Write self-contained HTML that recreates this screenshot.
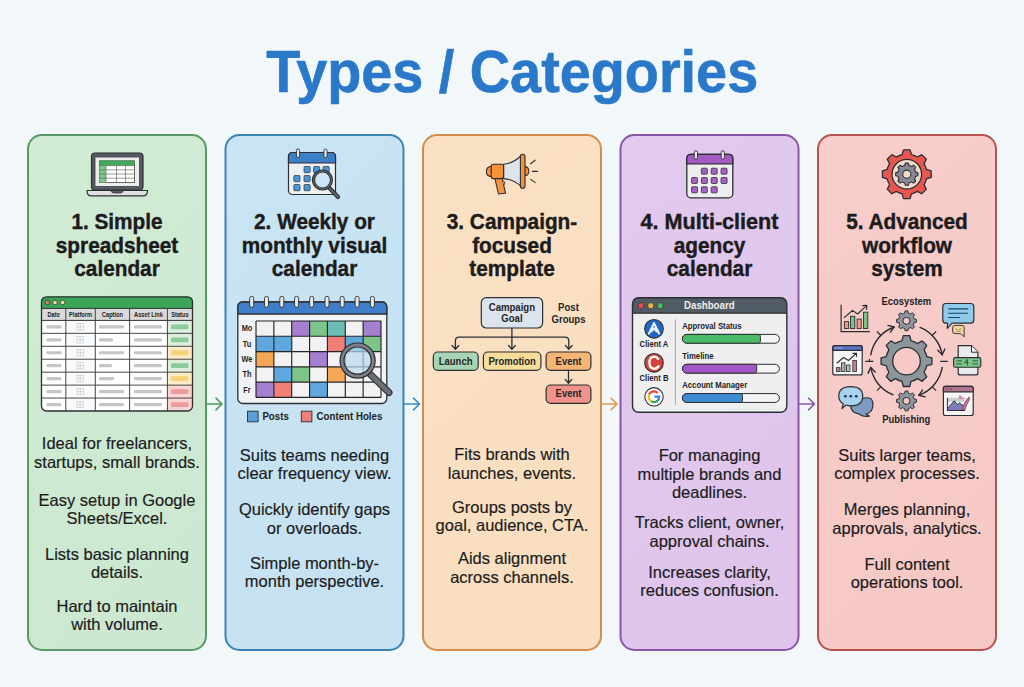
<!DOCTYPE html>
<html><head><meta charset="utf-8"><title>Types / Categories</title>
<style>html,body{margin:0;padding:0;background:#f2f8fa;width:1024px;height:687px;overflow:hidden}svg{display:block}</style>
</head><body>
<svg width="1024" height="687" viewBox="0 0 1024 687" font-family='"Liberation Sans", sans-serif'><defs><linearGradient id="g0" x1="0" y1="0" x2="0.3" y2="1"><stop offset="0" stop-color="#d1ebd5"/><stop offset="1" stop-color="#cde8d1"/></linearGradient><linearGradient id="g1" x1="0" y1="0" x2="0.3" y2="1"><stop offset="0" stop-color="#c9e4f3"/><stop offset="1" stop-color="#c6e2f2"/></linearGradient><linearGradient id="g2" x1="0" y1="0" x2="0.3" y2="1"><stop offset="0" stop-color="#fbe1c4"/><stop offset="1" stop-color="#f9dec0"/></linearGradient><linearGradient id="g3" x1="0" y1="0" x2="0.3" y2="1"><stop offset="0" stop-color="#e2c9ee"/><stop offset="1" stop-color="#dfc5eb"/></linearGradient><linearGradient id="g4" x1="0" y1="0" x2="0.3" y2="1"><stop offset="0" stop-color="#f8cdca"/><stop offset="1" stop-color="#f6c9c5"/></linearGradient></defs>
<rect x="28" y="135" width="178" height="515" rx="14" fill="url(#g0)" stroke="#579a65" stroke-width="2"/>
<rect x="225.5" y="135" width="178" height="515" rx="14" fill="url(#g1)" stroke="#3b83b2" stroke-width="2"/>
<rect x="423" y="135" width="178" height="515" rx="14" fill="url(#g2)" stroke="#d68d48" stroke-width="2"/>
<rect x="620.5" y="135" width="178" height="515" rx="14" fill="url(#g3)" stroke="#8756a6" stroke-width="2"/>
<rect x="818" y="135" width="178" height="515" rx="14" fill="url(#g4)" stroke="#b5544f" stroke-width="2"/>
<path d="M207 404 H222.0 M216.0 398.2 L222.0 404 L216.0 409.8" fill="none" stroke="#4d9a5e" stroke-width="1.6" stroke-linecap="round" stroke-linejoin="round"/>
<path d="M404.5 404 H419.5 M413.5 398.2 L419.5 404 L413.5 409.8" fill="none" stroke="#3f8bbf" stroke-width="1.6" stroke-linecap="round" stroke-linejoin="round"/>
<path d="M602 404 H617.0 M611.0 398.2 L617.0 404 L611.0 409.8" fill="none" stroke="#e39b4c" stroke-width="1.6" stroke-linecap="round" stroke-linejoin="round"/>
<path d="M799.5 404 H814.5 M808.5 398.2 L814.5 404 L808.5 409.8" fill="none" stroke="#8e56ac" stroke-width="1.6" stroke-linecap="round" stroke-linejoin="round"/>
<text transform="translate(512.2 91.7) scale(1 1.075)" font-size="55.8" font-weight="bold" fill="#2a78ca" text-anchor="middle" stroke="#2a78ca" stroke-width="0.6">Types / Categories</text>
<text transform="translate(117.0 228.8) scale(1 1.08)" font-size="20.8" font-weight="bold" fill="#1c1c1c" text-anchor="middle" stroke="#1c1c1c" stroke-width="0.4">1. Simple</text>
<text transform="translate(117.0 252.6) scale(1 1.08)" font-size="20.8" font-weight="bold" fill="#1c1c1c" text-anchor="middle" stroke="#1c1c1c" stroke-width="0.4">spreadsheet</text>
<text transform="translate(117.0 276.0) scale(1 1.08)" font-size="20.8" font-weight="bold" fill="#1c1c1c" text-anchor="middle" stroke="#1c1c1c" stroke-width="0.4">calendar</text>
<text transform="translate(314.5 228.8) scale(1 1.08)" font-size="20.8" font-weight="bold" fill="#1c1c1c" text-anchor="middle" stroke="#1c1c1c" stroke-width="0.4">2. Weekly or</text>
<text transform="translate(314.5 252.6) scale(1 1.08)" font-size="20.8" font-weight="bold" fill="#1c1c1c" text-anchor="middle" stroke="#1c1c1c" stroke-width="0.4">monthly visual</text>
<text transform="translate(314.5 276.0) scale(1 1.08)" font-size="20.8" font-weight="bold" fill="#1c1c1c" text-anchor="middle" stroke="#1c1c1c" stroke-width="0.4">calendar</text>
<text transform="translate(512.0 228.8) scale(1 1.08)" font-size="20.8" font-weight="bold" fill="#1c1c1c" text-anchor="middle" stroke="#1c1c1c" stroke-width="0.4">3. Campaign-</text>
<text transform="translate(512.0 252.6) scale(1 1.08)" font-size="20.8" font-weight="bold" fill="#1c1c1c" text-anchor="middle" stroke="#1c1c1c" stroke-width="0.4">focused</text>
<text transform="translate(512.0 276.0) scale(1 1.08)" font-size="20.8" font-weight="bold" fill="#1c1c1c" text-anchor="middle" stroke="#1c1c1c" stroke-width="0.4">template</text>
<text transform="translate(709.5 228.8) scale(1 1.08)" font-size="20.8" font-weight="bold" fill="#1c1c1c" text-anchor="middle" stroke="#1c1c1c" stroke-width="0.4" textLength="138" lengthAdjust="spacingAndGlyphs">4. Multi-client</text>
<text transform="translate(709.5 252.6) scale(1 1.08)" font-size="20.8" font-weight="bold" fill="#1c1c1c" text-anchor="middle" stroke="#1c1c1c" stroke-width="0.4">agency</text>
<text transform="translate(709.5 276.0) scale(1 1.08)" font-size="20.8" font-weight="bold" fill="#1c1c1c" text-anchor="middle" stroke="#1c1c1c" stroke-width="0.4">calendar</text>
<text transform="translate(907.0 228.8) scale(1 1.08)" font-size="20.8" font-weight="bold" fill="#1c1c1c" text-anchor="middle" stroke="#1c1c1c" stroke-width="0.4">5. Advanced</text>
<text transform="translate(907.0 252.6) scale(1 1.08)" font-size="20.8" font-weight="bold" fill="#1c1c1c" text-anchor="middle" stroke="#1c1c1c" stroke-width="0.4">workflow</text>
<text transform="translate(907.0 276.0) scale(1 1.08)" font-size="20.8" font-weight="bold" fill="#1c1c1c" text-anchor="middle" stroke="#1c1c1c" stroke-width="0.4">system</text>
<text transform="translate(117.0 449.1) scale(1 1.05)" font-size="16.5" font-weight="normal" fill="#1c1c1c" text-anchor="middle" stroke="#1c1c1c" stroke-width="0.18">Ideal for freelancers,</text>
<text transform="translate(117.0 467.8) scale(1 1.05)" font-size="16.5" font-weight="normal" fill="#1c1c1c" text-anchor="middle" stroke="#1c1c1c" stroke-width="0.18">startups, small brands.</text>
<text transform="translate(117.0 505.5) scale(1 1.05)" font-size="16.5" font-weight="normal" fill="#1c1c1c" text-anchor="middle" stroke="#1c1c1c" stroke-width="0.18">Easy setup in Google</text>
<text transform="translate(117.0 523.8) scale(1 1.05)" font-size="16.5" font-weight="normal" fill="#1c1c1c" text-anchor="middle" stroke="#1c1c1c" stroke-width="0.18">Sheets/Excel.</text>
<text transform="translate(117.0 559.8) scale(1 1.05)" font-size="16.5" font-weight="normal" fill="#1c1c1c" text-anchor="middle" stroke="#1c1c1c" stroke-width="0.18">Lists basic planning</text>
<text transform="translate(117.0 577.9) scale(1 1.05)" font-size="16.5" font-weight="normal" fill="#1c1c1c" text-anchor="middle" stroke="#1c1c1c" stroke-width="0.18">details.</text>
<text transform="translate(117.0 611.5) scale(1 1.05)" font-size="16.5" font-weight="normal" fill="#1c1c1c" text-anchor="middle" stroke="#1c1c1c" stroke-width="0.18">Hard to maintain</text>
<text transform="translate(117.0 629.6) scale(1 1.05)" font-size="16.5" font-weight="normal" fill="#1c1c1c" text-anchor="middle" stroke="#1c1c1c" stroke-width="0.18">with volume.</text>
<text transform="translate(314.5 461.2) scale(1 1.05)" font-size="16.5" font-weight="normal" fill="#1c1c1c" text-anchor="middle" stroke="#1c1c1c" stroke-width="0.18">Suits teams needing</text>
<text transform="translate(314.5 479.4) scale(1 1.05)" font-size="16.5" font-weight="normal" fill="#1c1c1c" text-anchor="middle" stroke="#1c1c1c" stroke-width="0.18">clear frequency view.</text>
<text transform="translate(314.5 515) scale(1 1.05)" font-size="16.5" font-weight="normal" fill="#1c1c1c" text-anchor="middle" stroke="#1c1c1c" stroke-width="0.18">Quickly identify gaps</text>
<text transform="translate(314.5 533.6) scale(1 1.05)" font-size="16.5" font-weight="normal" fill="#1c1c1c" text-anchor="middle" stroke="#1c1c1c" stroke-width="0.18">or overloads.</text>
<text transform="translate(314.5 568.5) scale(1 1.05)" font-size="16.5" font-weight="normal" fill="#1c1c1c" text-anchor="middle" stroke="#1c1c1c" stroke-width="0.18">Simple month-by-</text>
<text transform="translate(314.5 587) scale(1 1.05)" font-size="16.5" font-weight="normal" fill="#1c1c1c" text-anchor="middle" stroke="#1c1c1c" stroke-width="0.18">month perspective.</text>
<text transform="translate(512.0 460.2) scale(1 1.05)" font-size="16.5" font-weight="normal" fill="#1c1c1c" text-anchor="middle" stroke="#1c1c1c" stroke-width="0.18">Fits brands with</text>
<text transform="translate(512.0 478.7) scale(1 1.05)" font-size="16.5" font-weight="normal" fill="#1c1c1c" text-anchor="middle" stroke="#1c1c1c" stroke-width="0.18">launches, events.</text>
<text transform="translate(512.0 512.6) scale(1 1.05)" font-size="16.5" font-weight="normal" fill="#1c1c1c" text-anchor="middle" stroke="#1c1c1c" stroke-width="0.18">Groups posts by</text>
<text transform="translate(512.0 531) scale(1 1.05)" font-size="16.5" font-weight="normal" fill="#1c1c1c" text-anchor="middle" stroke="#1c1c1c" stroke-width="0.18">goal, audience, CTA.</text>
<text transform="translate(512.0 564.3) scale(1 1.05)" font-size="16.5" font-weight="normal" fill="#1c1c1c" text-anchor="middle" stroke="#1c1c1c" stroke-width="0.18">Aids alignment</text>
<text transform="translate(512.0 582.8) scale(1 1.05)" font-size="16.5" font-weight="normal" fill="#1c1c1c" text-anchor="middle" stroke="#1c1c1c" stroke-width="0.18">across channels.</text>
<text transform="translate(709.5 461.2) scale(1 1.05)" font-size="16.5" font-weight="normal" fill="#1c1c1c" text-anchor="middle" stroke="#1c1c1c" stroke-width="0.18">For managing</text>
<text transform="translate(709.5 480) scale(1 1.05)" font-size="16.5" font-weight="normal" fill="#1c1c1c" text-anchor="middle" stroke="#1c1c1c" stroke-width="0.18">multiple brands and</text>
<text transform="translate(709.5 497.6) scale(1 1.05)" font-size="16.5" font-weight="normal" fill="#1c1c1c" text-anchor="middle" stroke="#1c1c1c" stroke-width="0.18">deadlines.</text>
<text transform="translate(709.5 528.3) scale(1 1.05)" font-size="16.5" font-weight="normal" fill="#1c1c1c" text-anchor="middle" stroke="#1c1c1c" stroke-width="0.18">Tracks client, owner,</text>
<text transform="translate(709.5 546.5) scale(1 1.05)" font-size="16.5" font-weight="normal" fill="#1c1c1c" text-anchor="middle" stroke="#1c1c1c" stroke-width="0.18">approval chains.</text>
<text transform="translate(709.5 578) scale(1 1.05)" font-size="16.5" font-weight="normal" fill="#1c1c1c" text-anchor="middle" stroke="#1c1c1c" stroke-width="0.18">Increases clarity,</text>
<text transform="translate(709.5 595.8) scale(1 1.05)" font-size="16.5" font-weight="normal" fill="#1c1c1c" text-anchor="middle" stroke="#1c1c1c" stroke-width="0.18">reduces confusion.</text>
<text transform="translate(907.0 460.8) scale(1 1.05)" font-size="16.5" font-weight="normal" fill="#1c1c1c" text-anchor="middle" stroke="#1c1c1c" stroke-width="0.18">Suits larger teams,</text>
<text transform="translate(907.0 479.1) scale(1 1.05)" font-size="16.5" font-weight="normal" fill="#1c1c1c" text-anchor="middle" stroke="#1c1c1c" stroke-width="0.18">complex processes.</text>
<text transform="translate(907.0 515.3) scale(1 1.05)" font-size="16.5" font-weight="normal" fill="#1c1c1c" text-anchor="middle" stroke="#1c1c1c" stroke-width="0.18">Merges planning,</text>
<text transform="translate(907.0 534) scale(1 1.05)" font-size="16.5" font-weight="normal" fill="#1c1c1c" text-anchor="middle" stroke="#1c1c1c" stroke-width="0.18">approvals, analytics.</text>
<text transform="translate(907.0 569.7) scale(1 1.05)" font-size="16.5" font-weight="normal" fill="#1c1c1c" text-anchor="middle" stroke="#1c1c1c" stroke-width="0.18">Full content</text>
<text transform="translate(907.0 588) scale(1 1.05)" font-size="16.5" font-weight="normal" fill="#1c1c1c" text-anchor="middle" stroke="#1c1c1c" stroke-width="0.18">operations tool.</text>
<rect x="91.5" y="153" width="51.5" height="37" rx="3.5" fill="#565c64" stroke="#2b2f33" stroke-width="1.2"/>
<rect x="95" y="157" width="44.5" height="29.5" fill="#eceeee" stroke="#3a3f44" stroke-width="0.8"/>
<rect x="99.5" y="160.8" width="35" height="21.8" fill="#ffffff" stroke="#444" stroke-width="0.8"/>
<rect x="99.5" y="160.8" width="35" height="4.8" fill="#3fa95a"/>
<rect x="99.5" y="165.6" width="6.5" height="17" fill="#7cc98a"/>
<line x1="99.5" y1="165.6" x2="134.5" y2="165.6" stroke="#555" stroke-width="0.6"/>
<line x1="99.5" y1="169.8" x2="134.5" y2="169.8" stroke="#555" stroke-width="0.6"/>
<line x1="99.5" y1="174" x2="134.5" y2="174" stroke="#555" stroke-width="0.6"/>
<line x1="99.5" y1="178.2" x2="134.5" y2="178.2" stroke="#555" stroke-width="0.6"/>
<line x1="106" y1="165.6" x2="106" y2="182.6" stroke="#555" stroke-width="0.6"/>
<line x1="116.5" y1="165.6" x2="116.5" y2="182.6" stroke="#555" stroke-width="0.6"/>
<line x1="125.5" y1="165.6" x2="125.5" y2="182.6" stroke="#555" stroke-width="0.6"/>
<path d="M87 190.5 H147.5 Q147.5 195.5 143.5 195.8 H90.5 Q87 195.5 87 190.5 Z" fill="#dfe1e3" stroke="#2b2f33" stroke-width="1.2" stroke-linejoin="round"/>
<path d="M110.5 190.3 Q111.5 193 114 193 H120.5 Q123 193 123.5 190.3 Z" fill="#555b62" stroke="#2b2f33" stroke-width="0.8"/>
<rect x="41.5" y="296.8" width="151.0" height="114.19999999999999" rx="5" fill="#ffffff"/>
<path d="M41.5 308.8 V301.8 Q41.5 296.8 46.5 296.8 H187.5 Q192.5 296.8 192.5 301.8 V308.8 Z" fill="#3aa556"/>
<circle cx="47.4" cy="302.5" r="2.3" fill="#d9806f" stroke="#2b2f33" stroke-width="0.7"/>
<circle cx="55.0" cy="302.5" r="2.3" fill="#e8dc9e" stroke="#2b2f33" stroke-width="0.7"/>
<circle cx="62.6" cy="302.5" r="2.3" fill="#ece2a4" stroke="#2b2f33" stroke-width="0.7"/>
<rect x="41.5" y="308.4" width="151.0" height="12.0" fill="#d9d9d9"/>
<text transform="translate(53.65 317) scale(1 1.12)" font-size="5.7" font-weight="bold" fill="#1e1e1e" text-anchor="middle" >Date</text>
<text transform="translate(80.55 317) scale(1 1.12)" font-size="5.7" font-weight="bold" fill="#1e1e1e" text-anchor="middle" >Platform</text>
<text transform="translate(112.44999999999999 317) scale(1 1.12)" font-size="5.7" font-weight="bold" fill="#1e1e1e" text-anchor="middle" >Caption</text>
<text transform="translate(148.5 317) scale(1 1.12)" font-size="5.7" font-weight="bold" fill="#1e1e1e" text-anchor="middle" >Asset Link</text>
<text transform="translate(179.95 317) scale(1 1.12)" font-size="5.7" font-weight="bold" fill="#1e1e1e" text-anchor="middle" >Status</text>
<rect x="167.4" y="320.4" width="25.099999999999994" height="12.942857142857147" fill="#dcefdf"/>
<rect x="65.8" y="320.4" width="29.5" height="12.942857142857147" fill="#f8fafc"/>
<rect x="46.5" y="325.27142857142854" width="15" height="3.2" rx="1.2" fill="#c4c6c8"/>
<rect x="99" y="325.27142857142854" width="25" height="3.2" rx="1.2" fill="#c4c6c8"/>
<rect x="134" y="325.27142857142854" width="28" height="3.2" rx="1.2" fill="#c4c6c8"/>
<rect x="171" y="324.4714285714286" width="17.5" height="4.8" rx="1.2" fill="#8ccc98"/>
<g fill="none" stroke="#c0c4c8" stroke-width="0.6"><rect x="77" y="323.6714285714286" width="6.4" height="6.4"/><line x1="80.2" y1="323.6714285714286" x2="80.2" y2="330.07142857142856"/><line x1="77" y1="326.87142857142857" x2="83.4" y2="326.87142857142857"/></g>
<rect x="167.4" y="333.3428571428571" width="25.099999999999994" height="12.942857142857147" fill="#dcefdf"/>
<rect x="65.8" y="333.3428571428571" width="29.5" height="12.942857142857147" fill="#f8fafc"/>
<rect x="46.5" y="338.21428571428567" width="15" height="3.2" rx="1.2" fill="#c4c6c8"/>
<rect x="99" y="338.21428571428567" width="14" height="3.2" rx="1.2" fill="#c4c6c8"/>
<rect x="134" y="338.21428571428567" width="28" height="3.2" rx="1.2" fill="#c4c6c8"/>
<rect x="171" y="337.4142857142857" width="17.5" height="4.8" rx="1.2" fill="#8ccc98"/>
<g fill="none" stroke="#c0c4c8" stroke-width="0.6"><rect x="77" y="336.6142857142857" width="6.4" height="6.4"/><line x1="80.2" y1="336.6142857142857" x2="80.2" y2="343.0142857142857"/><line x1="77" y1="339.8142857142857" x2="83.4" y2="339.8142857142857"/></g>
<rect x="167.4" y="346.2857142857143" width="25.099999999999994" height="12.942857142857147" fill="#fcebc6"/>
<rect x="65.8" y="346.2857142857143" width="29.5" height="12.942857142857147" fill="#f8fafc"/>
<rect x="46.5" y="351.15714285714284" width="15" height="3.2" rx="1.2" fill="#c4c6c8"/>
<rect x="99" y="351.15714285714284" width="25" height="3.2" rx="1.2" fill="#c4c6c8"/>
<rect x="134" y="351.15714285714284" width="28" height="3.2" rx="1.2" fill="#c4c6c8"/>
<rect x="171" y="350.3571428571429" width="17.5" height="4.8" rx="1.2" fill="#f6d27a"/>
<g fill="none" stroke="#c0c4c8" stroke-width="0.6"><rect x="77" y="349.5571428571429" width="6.4" height="6.4"/><line x1="80.2" y1="349.5571428571429" x2="80.2" y2="355.95714285714286"/><line x1="77" y1="352.75714285714287" x2="83.4" y2="352.75714285714287"/></g>
<rect x="167.4" y="359.2285714285714" width="25.099999999999994" height="12.942857142857147" fill="#dcefdf"/>
<rect x="65.8" y="359.2285714285714" width="29.5" height="12.942857142857147" fill="#f8fafc"/>
<rect x="46.5" y="364.09999999999997" width="15" height="3.2" rx="1.2" fill="#c4c6c8"/>
<rect x="99" y="364.09999999999997" width="13" height="3.2" rx="1.2" fill="#c4c6c8"/>
<rect x="134" y="364.09999999999997" width="28" height="3.2" rx="1.2" fill="#c4c6c8"/>
<rect x="171" y="363.3" width="17.5" height="4.8" rx="1.2" fill="#8ccc98"/>
<g fill="none" stroke="#c0c4c8" stroke-width="0.6"><rect x="77" y="362.5" width="6.4" height="6.4"/><line x1="80.2" y1="362.5" x2="80.2" y2="368.9"/><line x1="77" y1="365.7" x2="83.4" y2="365.7"/></g>
<rect x="167.4" y="372.1714285714286" width="25.099999999999994" height="12.942857142857147" fill="#fcebc6"/>
<rect x="65.8" y="372.1714285714286" width="29.5" height="12.942857142857147" fill="#f8fafc"/>
<rect x="46.5" y="377.04285714285714" width="15" height="3.2" rx="1.2" fill="#c4c6c8"/>
<rect x="99" y="377.04285714285714" width="15" height="3.2" rx="1.2" fill="#c4c6c8"/>
<rect x="134" y="377.04285714285714" width="28" height="3.2" rx="1.2" fill="#c4c6c8"/>
<rect x="171" y="376.2428571428572" width="17.5" height="4.8" rx="1.2" fill="#f6d27a"/>
<g fill="none" stroke="#c0c4c8" stroke-width="0.6"><rect x="77" y="375.4428571428572" width="6.4" height="6.4"/><line x1="80.2" y1="375.4428571428572" x2="80.2" y2="381.84285714285716"/><line x1="77" y1="378.64285714285717" x2="83.4" y2="378.64285714285717"/></g>
<rect x="167.4" y="385.1142857142857" width="25.099999999999994" height="12.942857142857147" fill="#f9d4d4"/>
<rect x="65.8" y="385.1142857142857" width="29.5" height="12.942857142857147" fill="#f8fafc"/>
<rect x="46.5" y="389.98571428571427" width="15" height="3.2" rx="1.2" fill="#c4c6c8"/>
<rect x="99" y="389.98571428571427" width="25" height="3.2" rx="1.2" fill="#c4c6c8"/>
<rect x="134" y="389.98571428571427" width="28" height="3.2" rx="1.2" fill="#c4c6c8"/>
<rect x="171" y="389.1857142857143" width="17.5" height="4.8" rx="1.2" fill="#ef9a9a"/>
<g fill="none" stroke="#c0c4c8" stroke-width="0.6"><rect x="77" y="388.3857142857143" width="6.4" height="6.4"/><line x1="80.2" y1="388.3857142857143" x2="80.2" y2="394.7857142857143"/><line x1="77" y1="391.5857142857143" x2="83.4" y2="391.5857142857143"/></g>
<rect x="167.4" y="398.0571428571428" width="25.099999999999994" height="12.942857142857147" fill="#f9d4d4"/>
<rect x="65.8" y="398.0571428571428" width="29.5" height="12.942857142857147" fill="#f8fafc"/>
<rect x="46.5" y="402.9285714285714" width="15" height="3.2" rx="1.2" fill="#c4c6c8"/>
<rect x="99" y="402.9285714285714" width="25" height="3.2" rx="1.2" fill="#c4c6c8"/>
<rect x="134" y="402.9285714285714" width="28" height="3.2" rx="1.2" fill="#c4c6c8"/>
<rect x="171" y="402.12857142857143" width="17.5" height="4.8" rx="1.2" fill="#ef9a9a"/>
<g fill="none" stroke="#c0c4c8" stroke-width="0.6"><rect x="77" y="401.3285714285714" width="6.4" height="6.4"/><line x1="80.2" y1="401.3285714285714" x2="80.2" y2="407.7285714285714"/><line x1="77" y1="404.5285714285714" x2="83.4" y2="404.5285714285714"/></g>
<line x1="41.5" y1="333.3428571428571" x2="192.5" y2="333.3428571428571" stroke="#333" stroke-width="0.9"/>
<line x1="41.5" y1="346.2857142857143" x2="192.5" y2="346.2857142857143" stroke="#333" stroke-width="0.9"/>
<line x1="41.5" y1="359.2285714285714" x2="192.5" y2="359.2285714285714" stroke="#333" stroke-width="0.9"/>
<line x1="41.5" y1="372.1714285714286" x2="192.5" y2="372.1714285714286" stroke="#333" stroke-width="0.9"/>
<line x1="41.5" y1="385.1142857142857" x2="192.5" y2="385.1142857142857" stroke="#333" stroke-width="0.9"/>
<line x1="41.5" y1="398.0571428571428" x2="192.5" y2="398.0571428571428" stroke="#333" stroke-width="0.9"/>
<line x1="41.5" y1="308.4" x2="192.5" y2="308.4" stroke="#333" stroke-width="1"/>
<line x1="41.5" y1="320.4" x2="192.5" y2="320.4" stroke="#333" stroke-width="1"/>
<line x1="65.8" y1="308.4" x2="65.8" y2="411" stroke="#333" stroke-width="0.9"/>
<line x1="95.3" y1="308.4" x2="95.3" y2="411" stroke="#333" stroke-width="0.9"/>
<line x1="129.6" y1="308.4" x2="129.6" y2="411" stroke="#333" stroke-width="0.9"/>
<line x1="167.4" y1="308.4" x2="167.4" y2="411" stroke="#333" stroke-width="0.9"/>
<rect x="41.5" y="296.8" width="151.0" height="114.19999999999999" rx="5" fill="none" stroke="#2b2f33" stroke-width="1.3"/>
<rect x="288.5" y="152.5" width="47" height="42" rx="4" fill="#eef0f2" stroke="#2b2f33" stroke-width="1.2"/>
<path d="M288.5 163 V156.5 Q288.5 152.5 292.5 152.5 H331.5 Q335.5 152.5 335.5 156.5 V163 Z" fill="#3d7fc8" stroke="#2b2f33" stroke-width="1.2"/>
<rect x="296.4" y="149" width="3.2" height="8.5" rx="1.6" fill="#e8eaec" stroke="#2b2f33" stroke-width="0.9"/>
<rect x="323.9" y="149" width="3.2" height="8.5" rx="1.6" fill="#e8eaec" stroke="#2b2f33" stroke-width="0.9"/>
<rect x="304" y="166.5" width="6.2" height="6.2" rx="1" fill="#4a94d8" stroke="#2b2f33" stroke-width="0.7"/>
<rect x="313.5" y="166.5" width="6.2" height="6.2" rx="1" fill="#4a94d8" stroke="#2b2f33" stroke-width="0.7"/>
<rect x="323" y="166.5" width="6.2" height="6.2" rx="1" fill="#4a94d8" stroke="#2b2f33" stroke-width="0.7"/>
<rect x="293.8" y="175.5" width="6.2" height="6.2" rx="1" fill="#4a94d8" stroke="#2b2f33" stroke-width="0.7"/>
<rect x="304" y="175.5" width="6.2" height="6.2" rx="1" fill="#4a94d8" stroke="#2b2f33" stroke-width="0.7"/>
<rect x="293.8" y="184.5" width="6.2" height="6.2" rx="1" fill="#4a94d8" stroke="#2b2f33" stroke-width="0.7"/>
<rect x="304" y="184.5" width="6.2" height="6.2" rx="1" fill="#4a94d8" stroke="#2b2f33" stroke-width="0.7"/>
<line x1="328.5" y1="187" x2="338" y2="197" stroke="#2b2f33" stroke-width="4.2" stroke-linecap="round"/>
<line x1="328.5" y1="187" x2="338" y2="197" stroke="#5a6068" stroke-width="2.4" stroke-linecap="round"/>
<circle cx="322.5" cy="180" r="9" fill="#cfe6f6" stroke="#2b2f33" stroke-width="3.2"/>
<circle cx="322.5" cy="180" r="9" fill="none" stroke="#5a6068" stroke-width="1.4"/>
<rect x="237.8" y="302" width="149.0" height="101.5" rx="5" fill="#f1f2f3" stroke="#2b2f33" stroke-width="1.3"/>
<path d="M237.8 314 V307 Q237.8 302 242.8 302 H381.8 Q386.8 302 386.8 307 V314 Z" fill="#3f7fc9" stroke="#2b2f33" stroke-width="1.3"/>
<rect x="249.7" y="296.3" width="4" height="11" rx="2" fill="#e6e8ea" stroke="#2b2f33" stroke-width="0.9"/>
<rect x="264.5" y="296.3" width="4" height="11" rx="2" fill="#e6e8ea" stroke="#2b2f33" stroke-width="0.9"/>
<rect x="279.8" y="296.3" width="4" height="11" rx="2" fill="#e6e8ea" stroke="#2b2f33" stroke-width="0.9"/>
<rect x="294.6" y="296.3" width="4" height="11" rx="2" fill="#e6e8ea" stroke="#2b2f33" stroke-width="0.9"/>
<rect x="309.7" y="296.3" width="4" height="11" rx="2" fill="#e6e8ea" stroke="#2b2f33" stroke-width="0.9"/>
<rect x="325" y="296.3" width="4" height="11" rx="2" fill="#e6e8ea" stroke="#2b2f33" stroke-width="0.9"/>
<rect x="340.2" y="296.3" width="4" height="11" rx="2" fill="#e6e8ea" stroke="#2b2f33" stroke-width="0.9"/>
<rect x="355.1" y="296.3" width="4" height="11" rx="2" fill="#e6e8ea" stroke="#2b2f33" stroke-width="0.9"/>
<rect x="370.4" y="296.3" width="4" height="11" rx="2" fill="#e6e8ea" stroke="#2b2f33" stroke-width="0.9"/>
<rect x="256.0" y="321.0" width="17.857142857142858" height="15.279999999999996" fill="#f2f2f2"/>
<rect x="273.85714285714283" y="321.0" width="17.857142857142858" height="15.279999999999996" fill="#f2f2f2"/>
<rect x="291.7142857142857" y="321.0" width="17.857142857142858" height="15.279999999999996" fill="#a57fd0"/>
<rect x="309.57142857142856" y="321.0" width="17.857142857142858" height="15.279999999999996" fill="#7cc487"/>
<rect x="327.42857142857144" y="321.0" width="17.857142857142858" height="15.279999999999996" fill="#6cbcb6"/>
<rect x="345.2857142857143" y="321.0" width="17.857142857142858" height="15.279999999999996" fill="#f2f2f2"/>
<rect x="363.1428571428571" y="321.0" width="17.857142857142858" height="15.279999999999996" fill="#a57fd0"/>
<rect x="256.0" y="336.28" width="17.857142857142858" height="15.279999999999996" fill="#5ea8de"/>
<rect x="273.85714285714283" y="336.28" width="17.857142857142858" height="15.279999999999996" fill="#5ea8de"/>
<rect x="291.7142857142857" y="336.28" width="17.857142857142858" height="15.279999999999996" fill="#f2f2f2"/>
<rect x="309.57142857142856" y="336.28" width="17.857142857142858" height="15.279999999999996" fill="#f2f2f2"/>
<rect x="327.42857142857144" y="336.28" width="17.857142857142858" height="15.279999999999996" fill="#ef7f77"/>
<rect x="345.2857142857143" y="336.28" width="17.857142857142858" height="15.279999999999996" fill="#5ea8de"/>
<rect x="363.1428571428571" y="336.28" width="17.857142857142858" height="15.279999999999996" fill="#7cc487"/>
<rect x="256.0" y="351.56" width="17.857142857142858" height="15.279999999999996" fill="#f5a755"/>
<rect x="273.85714285714283" y="351.56" width="17.857142857142858" height="15.279999999999996" fill="#f2f2f2"/>
<rect x="291.7142857142857" y="351.56" width="17.857142857142858" height="15.279999999999996" fill="#f2f2f2"/>
<rect x="309.57142857142856" y="351.56" width="17.857142857142858" height="15.279999999999996" fill="#a57fd0"/>
<rect x="327.42857142857144" y="351.56" width="17.857142857142858" height="15.279999999999996" fill="#f2f2f2"/>
<rect x="345.2857142857143" y="351.56" width="17.857142857142858" height="15.279999999999996" fill="#f2f2f2"/>
<rect x="363.1428571428571" y="351.56" width="17.857142857142858" height="15.279999999999996" fill="#f2f2f2"/>
<rect x="256.0" y="366.84" width="17.857142857142858" height="15.279999999999996" fill="#f2f2f2"/>
<rect x="273.85714285714283" y="366.84" width="17.857142857142858" height="15.279999999999996" fill="#5ea8de"/>
<rect x="291.7142857142857" y="366.84" width="17.857142857142858" height="15.279999999999996" fill="#7cc487"/>
<rect x="309.57142857142856" y="366.84" width="17.857142857142858" height="15.279999999999996" fill="#f2f2f2"/>
<rect x="327.42857142857144" y="366.84" width="17.857142857142858" height="15.279999999999996" fill="#f5a755"/>
<rect x="345.2857142857143" y="366.84" width="17.857142857142858" height="15.279999999999996" fill="#f2f2f2"/>
<rect x="363.1428571428571" y="366.84" width="17.857142857142858" height="15.279999999999996" fill="#f2f2f2"/>
<rect x="256.0" y="382.12" width="17.857142857142858" height="15.279999999999996" fill="#a57fd0"/>
<rect x="273.85714285714283" y="382.12" width="17.857142857142858" height="15.279999999999996" fill="#ef7f77"/>
<rect x="291.7142857142857" y="382.12" width="17.857142857142858" height="15.279999999999996" fill="#f2f2f2"/>
<rect x="309.57142857142856" y="382.12" width="17.857142857142858" height="15.279999999999996" fill="#5ea8de"/>
<rect x="327.42857142857144" y="382.12" width="17.857142857142858" height="15.279999999999996" fill="#f2f2f2"/>
<rect x="345.2857142857143" y="382.12" width="17.857142857142858" height="15.279999999999996" fill="#f2f2f2"/>
<rect x="363.1428571428571" y="382.12" width="17.857142857142858" height="15.279999999999996" fill="#f2f2f2"/>
<line x1="256.0" y1="321" x2="256.0" y2="397.4" stroke="#242424" stroke-width="1.15"/>
<line x1="273.85714285714283" y1="321" x2="273.85714285714283" y2="397.4" stroke="#242424" stroke-width="1.15"/>
<line x1="291.7142857142857" y1="321" x2="291.7142857142857" y2="397.4" stroke="#242424" stroke-width="1.15"/>
<line x1="309.57142857142856" y1="321" x2="309.57142857142856" y2="397.4" stroke="#242424" stroke-width="1.15"/>
<line x1="327.42857142857144" y1="321" x2="327.42857142857144" y2="397.4" stroke="#242424" stroke-width="1.15"/>
<line x1="345.2857142857143" y1="321" x2="345.2857142857143" y2="397.4" stroke="#242424" stroke-width="1.15"/>
<line x1="363.1428571428571" y1="321" x2="363.1428571428571" y2="397.4" stroke="#242424" stroke-width="1.15"/>
<line x1="381.0" y1="321" x2="381.0" y2="397.4" stroke="#242424" stroke-width="1.15"/>
<line x1="256" y1="321.0" x2="381" y2="321.0" stroke="#242424" stroke-width="1.15"/>
<line x1="256" y1="336.28" x2="381" y2="336.28" stroke="#242424" stroke-width="1.15"/>
<line x1="256" y1="351.56" x2="381" y2="351.56" stroke="#242424" stroke-width="1.15"/>
<line x1="256" y1="366.84" x2="381" y2="366.84" stroke="#242424" stroke-width="1.15"/>
<line x1="256" y1="382.12" x2="381" y2="382.12" stroke="#242424" stroke-width="1.15"/>
<line x1="256" y1="397.4" x2="381" y2="397.4" stroke="#242424" stroke-width="1.15"/>
<text transform="translate(247 331.44) scale(1 1.1)" font-size="7.4" font-weight="bold" fill="#1e1e1e" text-anchor="middle" >Mo</text>
<text transform="translate(247 346.72) scale(1 1.1)" font-size="7.4" font-weight="bold" fill="#1e1e1e" text-anchor="middle" >Tu</text>
<text transform="translate(247 362.0) scale(1 1.1)" font-size="7.4" font-weight="bold" fill="#1e1e1e" text-anchor="middle" >We</text>
<text transform="translate(247 377.28) scale(1 1.1)" font-size="7.4" font-weight="bold" fill="#1e1e1e" text-anchor="middle" >Th</text>
<text transform="translate(247 392.56) scale(1 1.1)" font-size="7.4" font-weight="bold" fill="#1e1e1e" text-anchor="middle" >Fr</text>
<line x1="370.5" y1="374.5" x2="389" y2="392.5" stroke="#2b2f33" stroke-width="7" stroke-linecap="round"/>
<line x1="370.5" y1="374.5" x2="389" y2="392.5" stroke="#6a6e74" stroke-width="4.8" stroke-linecap="round"/>
<circle cx="357.6" cy="360.6" r="15.6" fill="#b9daf2" fill-opacity="0.7" stroke="#2b2f33" stroke-width="5.2"/>
<circle cx="357.6" cy="360.6" r="15.6" fill="none" stroke="#7c7f84" stroke-width="2.8"/>
<rect x="247.5" y="411.2" width="10.6" height="10.6" fill="#5a9fd8" stroke="#2b2f33" stroke-width="0.9"/>
<text transform="translate(262.4 420.4) scale(1 1.2)" font-size="9.7" font-weight="bold" fill="#222" text-anchor="start" >Posts</text>
<rect x="301.3" y="411.2" width="10.6" height="10.6" fill="#ef7f77" stroke="#2b2f33" stroke-width="0.9"/>
<text transform="translate(316.6 420.4) scale(1 1.2)" font-size="9.7" font-weight="bold" fill="#222" text-anchor="start" >Content Holes</text>
<path d="M497.5 178 L495 179 L498.5 194 L505.5 193.2 L502 178 Z" fill="#f5923a" stroke="#2b2f33" stroke-width="1.1" stroke-linejoin="round"/>
<path d="M502.4 180.6 Q505.6 181.4 504.4 184.6 L503.2 184.2" fill="#f5923a" stroke="#2b2f33" stroke-width="0.9"/>
<path d="M491.8 166.2 Q486.4 166.5 486.4 171.4 Q486.4 176.3 491.8 176.6 Z" fill="#f5923a" stroke="#2b2f33" stroke-width="1.1"/>
<path d="M503.6 164.2 Q513 163.5 520.8 156 V186 Q513 179.2 503.6 178.6 Z" fill="#dfe4ea" stroke="#2b2f33" stroke-width="1.1" stroke-linejoin="round"/>
<rect x="491.2" y="164.2" width="12.4" height="14.4" rx="2" fill="#f5923a" stroke="#2b2f33" stroke-width="1.1"/>
<path d="M524.6 166.4 Q528.8 167 528.8 171.2 Q528.8 175.4 524.6 176 Z" fill="#f5923a" stroke="#2b2f33" stroke-width="1.1"/>
<rect x="520.4" y="154.2" width="4.6" height="34" rx="2.3" fill="#f5923a" stroke="#2b2f33" stroke-width="1.1"/>
<path d="M530.6 163.8 L535.2 160.2 M532.4 171.4 H537.6 M530.8 179.4 L535.2 182.6" stroke="#2b2f33" stroke-width="1.1" stroke-linecap="round"/>
<rect x="481.3" y="297.6" width="61.30000000000001" height="30.399999999999977" rx="5" fill="#dbe3ec" stroke="#2b2f33" stroke-width="1.2"/>
<text transform="translate(511.9 310.8) scale(1 1.2)" font-size="9.6" font-weight="bold" fill="#262626" text-anchor="middle" >Campaign</text>
<text transform="translate(511.9 321.9) scale(1 1.2)" font-size="9.6" font-weight="bold" fill="#262626" text-anchor="middle" >Goal</text>
<text transform="translate(568.5 311.3) scale(1 1.2)" font-size="9.6" font-weight="bold" fill="#262626" text-anchor="middle" >Post</text>
<text transform="translate(568.5 322.7) scale(1 1.2)" font-size="9.6" font-weight="bold" fill="#262626" text-anchor="middle" >Groups</text>
<path d="M511.9 328 V348.5 M455.4 348.5 V341 Q455.4 337.2 459.2 337.2 H565 Q568.8 337.2 568.8 341 V348.5" fill="none" stroke="#2b2f33" stroke-width="1.3"/>
<path d="M452.09999999999997 345.5 L455.4 349.3 L458.7 345.5" fill="none" stroke="#2b2f33" stroke-width="1.3" stroke-linecap="round" stroke-linejoin="round"/>
<path d="M508.59999999999997 345.5 L511.9 349.3 L515.1999999999999 345.5" fill="none" stroke="#2b2f33" stroke-width="1.3" stroke-linecap="round" stroke-linejoin="round"/>
<path d="M565.5 345.5 L568.8 349.3 L572.0999999999999 345.5" fill="none" stroke="#2b2f33" stroke-width="1.3" stroke-linecap="round" stroke-linejoin="round"/>
<rect x="433.3" y="352.0" width="44.89999999999998" height="18.30000000000001" rx="4.5" fill="#a8d6b4" stroke="#2b2f33" stroke-width="1.2"/>
<text transform="translate(455.6 364.5) scale(1 1.16)" font-size="9.5" font-weight="bold" fill="#262626" text-anchor="middle" >Launch</text>
<rect x="483.4" y="352.0" width="57.5" height="18.30000000000001" rx="4.5" fill="#f7dd9a" stroke="#2b2f33" stroke-width="1.2"/>
<text transform="translate(512.1 364.5) scale(1 1.16)" font-size="9.5" font-weight="bold" fill="#262626" text-anchor="middle" >Promotion</text>
<rect x="546.1" y="352.0" width="44.799999999999955" height="18.30000000000001" rx="4.5" fill="#f5b574" stroke="#2b2f33" stroke-width="1.2"/>
<text transform="translate(568.5 364.5) scale(1 1.16)" font-size="9.5" font-weight="bold" fill="#262626" text-anchor="middle" >Event</text>
<path d="M568.5 370.2 V383 M565.2 379.4 L568.5 383.2 L571.8 379.4" fill="none" stroke="#2b2f33" stroke-width="1.3" stroke-linecap="round" stroke-linejoin="round"/>
<rect x="546.1" y="385" width="44.799999999999955" height="18.30000000000001" rx="4.5" fill="#f0938a" stroke="#2b2f33" stroke-width="1.2"/>
<text transform="translate(568.5 397.2) scale(1 1.16)" font-size="9.5" font-weight="bold" fill="#262626" text-anchor="middle" >Event</text>
<rect x="686.8" y="154.4" width="46" height="43.4" rx="4" fill="#eeeeef" stroke="#2b2f33" stroke-width="1.3"/>
<path d="M686.8 163.8 V158.4 Q686.8 154.4 690.8 154.4 H728.8 Q732.8 154.4 732.8 158.4 V163.8 Z" fill="#a35bc2" stroke="#2b2f33" stroke-width="1.3"/>
<rect x="694.3" y="150.8" width="3.2" height="8.4" rx="1.6" fill="#e8e8ea" stroke="#2b2f33" stroke-width="0.9"/>
<rect x="721.1999999999999" y="150.8" width="3.2" height="8.4" rx="1.6" fill="#e8e8ea" stroke="#2b2f33" stroke-width="0.9"/>
<rect x="701.35" y="168.2" width="6" height="6" rx="1" fill="#a661c4" stroke="#2b2f33" stroke-width="0.8"/>
<rect x="711.2" y="168.2" width="6" height="6" rx="1" fill="#a661c4" stroke="#2b2f33" stroke-width="0.8"/>
<rect x="721.05" y="168.2" width="6" height="6" rx="1" fill="#a661c4" stroke="#2b2f33" stroke-width="0.8"/>
<rect x="691.5" y="177.5" width="6" height="6" rx="1" fill="#a661c4" stroke="#2b2f33" stroke-width="0.8"/>
<rect x="701.35" y="177.5" width="6" height="6" rx="1" fill="#a661c4" stroke="#2b2f33" stroke-width="0.8"/>
<rect x="711.2" y="177.5" width="6" height="6" rx="1" fill="#a661c4" stroke="#2b2f33" stroke-width="0.8"/>
<rect x="721.05" y="177.5" width="6" height="6" rx="1" fill="#a661c4" stroke="#2b2f33" stroke-width="0.8"/>
<rect x="691.5" y="186.79999999999998" width="6" height="6" rx="1" fill="#a661c4" stroke="#2b2f33" stroke-width="0.8"/>
<rect x="701.35" y="186.79999999999998" width="6" height="6" rx="1" fill="#a661c4" stroke="#2b2f33" stroke-width="0.8"/>
<rect x="711.2" y="186.79999999999998" width="6" height="6" rx="1" fill="#a661c4" stroke="#2b2f33" stroke-width="0.8"/>
<rect x="632.5" y="297.8" width="154.29999999999995" height="114.39999999999998" rx="6" fill="#efefef"/>
<path d="M632.5 313.2 V303.8 Q632.5 297.8 638.5 297.8 H780.8 Q786.8 297.8 786.8 303.8 V313.2 Z" fill="#505b63"/>
<line x1="632.5" y1="313.2" x2="786.8" y2="313.2" stroke="#2b2f33" stroke-width="1.2"/>
<rect x="632.5" y="297.8" width="154.29999999999995" height="114.39999999999998" rx="6" fill="none" stroke="#2b2f33" stroke-width="1.4"/>
<circle cx="641" cy="305.7" r="3.1" fill="#e05252" stroke="#2b2f33" stroke-width="0.7"/>
<circle cx="650.8" cy="305.7" r="3.1" fill="#e8b547" stroke="#2b2f33" stroke-width="0.7"/>
<circle cx="660.3" cy="305.7" r="3.1" fill="#4fb564" stroke="#2b2f33" stroke-width="0.7"/>
<text transform="translate(709.3 309.4) scale(1 1.1)" font-size="9.7" font-weight="bold" fill="#eceeee" text-anchor="middle" >Dashboard</text>
<line x1="675.4" y1="319.5" x2="675.4" y2="405.3" stroke="#9a9c9e" stroke-width="0.9"/>
<circle cx="654" cy="328.8" r="9.3" fill="#2167c2" stroke="#2b2f33" stroke-width="1.1"/>
<path d="M648.9 333.6 L654 323.2 L659.1 333.6 M651.4 331.4 L654 328.4 L656.6 331.4" fill="none" stroke="#e8f0fa" stroke-width="2.1" stroke-linejoin="round" stroke-linecap="round"/>
<text transform="translate(654 347.1) scale(1 1.08)" font-size="7.7" font-weight="bold" fill="#222" text-anchor="middle" >Client A</text>
<circle cx="654" cy="362.8" r="9.3" fill="#d9433c" stroke="#2b2f33" stroke-width="1.1"/>
<path d="M658.2 358.8 Q656.6 356.4 654 356.6 Q649.4 357 649.4 362.8 Q649.6 368.6 654.2 368.8 Q657 368.8 658.6 366.2" fill="none" stroke="#ffffff" stroke-width="2.4" stroke-linecap="round"/>
<text transform="translate(654 381.1) scale(1 1.08)" font-size="7.7" font-weight="bold" fill="#222" text-anchor="middle" >Client B</text>
<circle cx="654" cy="396.8" r="9.2" fill="#ffffff" stroke="#2b2f33" stroke-width="1.1"/>
<path d="M659.2 396.8 A5.2 5.2 0 0 1 651 401.1" fill="none" stroke="#34a853" stroke-width="2.2"/>
<path d="M651 401.1 A5.2 5.2 0 0 1 649.1 394.4" fill="none" stroke="#fbbc05" stroke-width="2.2"/>
<path d="M649.1 394.4 A5.2 5.2 0 0 1 657.6 393" fill="none" stroke="#ea4335" stroke-width="2.2"/>
<path d="M654.4 396.6 H659.2 A5.2 5.2 0 0 1 658 400" fill="none" stroke="#4285f4" stroke-width="2.2"/>
<text transform="translate(682.2 329.2) scale(1 1.05)" font-size="7.75" font-weight="bold" fill="#222" text-anchor="start" >Approval Status</text>
<rect x="682.4" y="334.4" width="97" height="8.8" rx="4.4" fill="#f4f4f4" stroke="#2b2f33" stroke-width="1"/>
<path d="M686.8 334.4 H758.4 Q760.4 334.4 760.4 336.4 V341.2 Q760.4 343.2 758.4 343.2 H686.8 A4.4 4.4 0 0 1 686.8 334.4 Z" fill="#4cbb68" stroke="#2b2f33" stroke-width="1"/>
<text transform="translate(682.2 359.1) scale(1 1.05)" font-size="7.75" font-weight="bold" fill="#222" text-anchor="start" >Timeline</text>
<rect x="682.4" y="364.3" width="97" height="8.8" rx="4.4" fill="#f4f4f4" stroke="#2b2f33" stroke-width="1"/>
<path d="M686.8 364.3 H754.7 Q756.7 364.3 756.7 366.3 V371.1 Q756.7 373.1 754.7 373.1 H686.8 A4.4 4.4 0 0 1 686.8 364.3 Z" fill="#a356c8" stroke="#2b2f33" stroke-width="1"/>
<text transform="translate(682.2 388.4) scale(1 1.05)" font-size="7.75" font-weight="bold" fill="#222" text-anchor="start" >Account Manager</text>
<rect x="682.4" y="393.59999999999997" width="97" height="8.8" rx="4.4" fill="#f4f4f4" stroke="#2b2f33" stroke-width="1"/>
<path d="M686.8 393.59999999999997 H740.5 Q742.5 393.59999999999997 742.5 395.59999999999997 V400.4 Q742.5 402.4 740.5 402.4 H686.8 A4.4 4.4 0 0 1 686.8 393.59999999999997 Z" fill="#3d8ad6" stroke="#2b2f33" stroke-width="1"/>
<path d="M902.08 154.56 L903.53 149.82 L910.07 149.82 L911.52 154.56 A20.2 20.2 0 0 1 917.35 156.98 L921.72 154.64 L926.36 159.28 L924.02 163.65 A20.2 20.2 0 0 1 926.44 169.48 L931.18 170.93 L931.18 177.47 L926.44 178.92 A20.2 20.2 0 0 1 924.02 184.75 L926.36 189.12 L921.72 193.76 L917.35 191.42 A20.2 20.2 0 0 1 911.52 193.84 L910.07 198.58 L903.53 198.58 L902.08 193.84 A20.2 20.2 0 0 1 896.25 191.42 L891.88 193.76 L887.24 189.12 L889.58 184.75 A20.2 20.2 0 0 1 887.16 178.92 L882.42 177.47 L882.42 170.93 L887.16 169.48 A20.2 20.2 0 0 1 889.58 163.65 L887.24 159.28 L891.88 154.64 L896.25 156.98 A20.2 20.2 0 0 1 902.08 154.56 Z" fill="#e8574f" stroke="#2b2f33" stroke-width="1.3" stroke-linejoin="round"/>
<circle cx="906.8" cy="174.2" r="14.8" fill="#f1d9c9" stroke="#2b2f33" stroke-width="1.3"/>
<path d="M904.70 165.45 L905.31 163.10 L908.29 163.10 L908.90 165.45 A9.0 9.0 0 0 1 911.50 166.53 L913.59 165.30 L915.70 167.41 L914.47 169.50 A9.0 9.0 0 0 1 915.55 172.10 L917.90 172.71 L917.90 175.69 L915.55 176.30 A9.0 9.0 0 0 1 914.47 178.90 L915.70 180.99 L913.59 183.10 L911.50 181.87 A9.0 9.0 0 0 1 908.90 182.95 L908.29 185.30 L905.31 185.30 L904.70 182.95 A9.0 9.0 0 0 1 902.10 181.87 L900.01 183.10 L897.90 180.99 L899.13 178.90 A9.0 9.0 0 0 1 898.05 176.30 L895.70 175.69 L895.70 172.71 L898.05 172.10 A9.0 9.0 0 0 1 899.13 169.50 L897.90 167.41 L900.01 165.30 L902.10 166.53 A9.0 9.0 0 0 1 904.70 165.45 Z" fill="#8a8896" stroke="#2b2f33" stroke-width="1.1" stroke-linejoin="round"/>
<circle cx="906.8" cy="174.2" r="4.1" fill="#f1d9c9" stroke="#2b2f33" stroke-width="1.1"/>
<text transform="translate(906.3 305.3) scale(1 1.2)" font-size="9.4" font-weight="bold" fill="#222" text-anchor="middle" >Ecosystem</text>
<text transform="translate(906.3 422.8) scale(1 1.2)" font-size="9.4" font-weight="bold" fill="#222" text-anchor="middle" >Publishing</text>
<path d="M870.75 354.80 A36.3 36.3 0 0 1 894.08 326.99" fill="none" stroke="#2b2f33" stroke-width="1.4" stroke-linecap="round"/>
<path d="M887.97 325.38 L894.08 326.99 L890.43 332.15" fill="none" stroke="#2b2f33" stroke-width="1.4" stroke-linecap="round" stroke-linejoin="round"/>
<path d="M920.10 327.44 A36.3 36.3 0 0 1 942.25 354.80" fill="none" stroke="#2b2f33" stroke-width="1.4" stroke-linecap="round"/>
<path d="M944.89 349.05 L942.25 354.80 L937.80 350.30" fill="none" stroke="#2b2f33" stroke-width="1.4" stroke-linecap="round" stroke-linejoin="round"/>
<path d="M942.25 367.40 A36.3 36.3 0 0 1 918.92 395.21" fill="none" stroke="#2b2f33" stroke-width="1.4" stroke-linecap="round"/>
<path d="M925.03 396.82 L918.92 395.21 L922.57 390.05" fill="none" stroke="#2b2f33" stroke-width="1.4" stroke-linecap="round" stroke-linejoin="round"/>
<path d="M892.90 394.76 A36.3 36.3 0 0 1 870.75 367.40" fill="none" stroke="#2b2f33" stroke-width="1.4" stroke-linecap="round"/>
<path d="M868.11 373.15 L870.75 367.40 L875.20 371.90" fill="none" stroke="#2b2f33" stroke-width="1.4" stroke-linecap="round" stroke-linejoin="round"/>
<line x1="881.19" y1="335.79" x2="876.94" y2="331.54" stroke="#2b2f33" stroke-width="1.2"/>
<line x1="931.81" y1="335.79" x2="936.06" y2="331.54" stroke="#2b2f33" stroke-width="1.2"/>
<line x1="931.81" y1="386.41" x2="936.06" y2="390.66" stroke="#2b2f33" stroke-width="1.2"/>
<line x1="881.19" y1="386.41" x2="876.94" y2="390.66" stroke="#2b2f33" stroke-width="1.2"/>
<path d="M865.3 361.3 H873.4 M869.5 359 V361.3 M940.2 361.3 H947.8" stroke="#2b2f33" stroke-width="1.2"/>
<path d="M901.96 340.80 L903.29 335.70 L909.71 335.70 L911.04 340.80 A20.8 20.8 0 0 1 917.65 343.54 L922.19 340.87 L926.73 345.41 L924.06 349.95 A20.8 20.8 0 0 1 926.80 356.56 L931.90 357.89 L931.90 364.31 L926.80 365.64 A20.8 20.8 0 0 1 924.06 372.25 L926.73 376.79 L922.19 381.33 L917.65 378.66 A20.8 20.8 0 0 1 911.04 381.40 L909.71 386.50 L903.29 386.50 L901.96 381.40 A20.8 20.8 0 0 1 895.35 378.66 L890.81 381.33 L886.27 376.79 L888.94 372.25 A20.8 20.8 0 0 1 886.20 365.64 L881.10 364.31 L881.10 357.89 L886.20 356.56 A20.8 20.8 0 0 1 888.94 349.95 L886.27 345.41 L890.81 340.87 L895.35 343.54 A20.8 20.8 0 0 1 901.96 340.80 Z" fill="#8d959c" stroke="#2b2f33" stroke-width="1.3" stroke-linejoin="round"/>
<circle cx="906.5" cy="361.1" r="13.8" fill="#f6c8c6" stroke="#2b2f33" stroke-width="1.3"/>
<path d="M904.66 313.12 L905.09 310.90 L907.91 310.90 L908.34 313.12 A7.9 7.9 0 0 1 910.63 314.06 L912.50 312.80 L914.50 314.80 L913.24 316.67 A7.9 7.9 0 0 1 914.18 318.96 L916.40 319.39 L916.40 322.21 L914.18 322.64 A7.9 7.9 0 0 1 913.24 324.93 L914.50 326.80 L912.50 328.80 L910.63 327.54 A7.9 7.9 0 0 1 908.34 328.48 L907.91 330.70 L905.09 330.70 L904.66 328.48 A7.9 7.9 0 0 1 902.37 327.54 L900.50 328.80 L898.50 326.80 L899.76 324.93 A7.9 7.9 0 0 1 898.82 322.64 L896.60 322.21 L896.60 319.39 L898.82 318.96 A7.9 7.9 0 0 1 899.76 316.67 L898.50 314.80 L900.50 312.80 L902.37 314.06 A7.9 7.9 0 0 1 904.66 313.12 Z" fill="#8d959c" stroke="#2b2f33" stroke-width="1" stroke-linejoin="round"/>
<circle cx="906.5" cy="320.8" r="3.5" fill="#f6c8c6" stroke="#2b2f33" stroke-width="1"/>
<path d="M904.66 393.22 L905.09 391.00 L907.91 391.00 L908.34 393.22 A7.9 7.9 0 0 1 910.63 394.16 L912.50 392.90 L914.50 394.90 L913.24 396.77 A7.9 7.9 0 0 1 914.18 399.06 L916.40 399.49 L916.40 402.31 L914.18 402.74 A7.9 7.9 0 0 1 913.24 405.03 L914.50 406.90 L912.50 408.90 L910.63 407.64 A7.9 7.9 0 0 1 908.34 408.58 L907.91 410.80 L905.09 410.80 L904.66 408.58 A7.9 7.9 0 0 1 902.37 407.64 L900.50 408.90 L898.50 406.90 L899.76 405.03 A7.9 7.9 0 0 1 898.82 402.74 L896.60 402.31 L896.60 399.49 L898.82 399.06 A7.9 7.9 0 0 1 899.76 396.77 L898.50 394.90 L900.50 392.90 L902.37 394.16 A7.9 7.9 0 0 1 904.66 393.22 Z" fill="#8d959c" stroke="#2b2f33" stroke-width="1" stroke-linejoin="round"/>
<circle cx="906.5" cy="400.9" r="3.5" fill="#f6c8c6" stroke="#2b2f33" stroke-width="1"/>
<path d="M841.1 304.8 V331.6 H869.9" fill="none" stroke="#2b2f33" stroke-width="1.2"/>
<rect x="844.4" y="321.6" width="4.2000000000000455" height="6.899999999999977" fill="#e9a07e" stroke="#2b2f33" stroke-width="0.9"/>
<rect x="850.5" y="316.3" width="4.2999999999999545" height="12.199999999999989" fill="#7cc08a" stroke="#2b2f33" stroke-width="0.9"/>
<rect x="857.1" y="319.1" width="4.100000000000023" height="9.399999999999977" fill="#e9a07e" stroke="#2b2f33" stroke-width="0.9"/>
<rect x="863.5" y="312.2" width="4.2999999999999545" height="16.30000000000001" fill="#7cc08a" stroke="#2b2f33" stroke-width="0.9"/>
<path d="M844.4 317.5 L852.5 310.4 L857.6 314 L866.8 305.3 M862.6 305.6 L866.8 305.3 L866.6 309.4" fill="none" stroke="#2b2f33" stroke-width="1.1" stroke-linecap="round" stroke-linejoin="round"/>
<path d="M945.8 303.5 H970.8 Q973.8 303.5 973.8 306.5 V320.1 Q973.8 323.1 970.8 323.1 H952 L947.3 328.4 L947.6 323.1 H945.8 Q942.8 323.1 942.8 320.1 V306.5 Q942.8 303.5 945.8 303.5 Z" fill="#8ecbeb" stroke="#2b2f33" stroke-width="1.2" stroke-linejoin="round"/>
<path d="M948.3 308.9 H968.2 M948.3 313.2 H968.2 M948.3 317.5 H960" stroke="#1f3f66" stroke-width="1.1"/>
<path d="M955 325.4 H962 Q964.2 325.4 964.2 327.6 V336.8 L960.5 333.6 H955 Q952.6 333.6 952.6 331.2 V327.8 Q952.6 325.4 955 325.4 Z" fill="#f2d49a" stroke="#2b2f33" stroke-width="0.9" stroke-linejoin="round"/>
<path d="M955.8 328.6 L957.6 329.6 M961 328.6 L959.2 329.6 M956.4 331.4 L960.6 331" stroke="#7a5a30" stroke-width="0.6"/>
<rect x="832.8" y="345.7" width="29.4" height="29.2" rx="2" fill="#f5f5f5" stroke="#2b2f33" stroke-width="1.2"/>
<path d="M832.8 350.4 V347.7 Q832.8 345.7 834.8 345.7 H860.2 Q862.2 345.7 862.2 347.7 V350.4 Z" fill="#5a73c2" stroke="#2b2f33" stroke-width="1.2"/>
<path d="M835.2 348 H836.6 M838 348 H839.4 M840.8 348 H842.2" stroke="#dde4f6" stroke-width="0.9"/>
<rect x="836.4" y="367.6" width="3.6" height="4.0" fill="#c97d8c" stroke="#2b2f33" stroke-width="0.8"/>
<rect x="841.4" y="362.8" width="3.6" height="8.800000000000011" fill="#a8b4a8" stroke="#2b2f33" stroke-width="0.8"/>
<rect x="846.4" y="365" width="3.6" height="6.600000000000023" fill="#b9c0b6" stroke="#2b2f33" stroke-width="0.8"/>
<rect x="852.8" y="360.4" width="3.6" height="11.200000000000045" fill="#c97d8c" stroke="#2b2f33" stroke-width="0.8"/>
<path d="M837 363 L843.5 357.5 L848.5 360.5 L856.5 353.2 M853 353.4 L856.5 353.2 L856.4 356.6" fill="none" stroke="#2b2f33" stroke-width="1.1" stroke-linecap="round" stroke-linejoin="round"/>
<path d="M958.2 345.7 H971.5 L977.9 352.2 V372.9 Q977.9 374.9 975.9 374.9 H960.2 Q958.2 374.9 958.2 372.9 Z" fill="#e9ebef" stroke="#2b2f33" stroke-width="1.2" stroke-linejoin="round"/>
<path d="M971.5 345.7 V352.2 H977.9" fill="#f8f8f8" stroke="#2b2f33" stroke-width="1"/>
<rect x="953.6" y="357.6" width="27.2" height="9.6" rx="1.5" fill="#7cc48a" stroke="#2b2f33" stroke-width="1.1"/>
<path d="M956.5 360.9 H962 M956.5 363.9 H962 M972.5 360.9 H978 M972.5 363.9 H978 M967.2 359.4 L964.4 362.6 H968.6 M967.4 359.4 V365.6" fill="none" stroke="#2f5b3a" stroke-width="1"/>
<path d="M861 399 Q872.9 394.8 872.9 404.6 Q872.9 413 866 414 L869.5 416.2 Q862 417 859 413.8 Q851 413 850.5 405 Z" fill="#7d9cc0" stroke="#2b2f33" stroke-width="1.2" stroke-linejoin="round"/>
<path d="M850.8 386.7 Q862.7 386.7 862.7 396.2 Q862.7 405.8 850.8 405.8 Q848 405.8 846 405 L842 408.6 L843.2 403.8 Q838.8 401 838.8 396.2 Q838.8 386.7 850.8 386.7 Z" fill="#a8d3ef" stroke="#2b2f33" stroke-width="1.2" stroke-linejoin="round"/>
<circle cx="845.4" cy="396.2" r="1.3" fill="#1b2a3a"/>
<circle cx="850.8" cy="396.2" r="1.3" fill="#1b2a3a"/>
<circle cx="856.2" cy="396.2" r="1.3" fill="#1b2a3a"/>
<rect x="943.4" y="386.3" width="29.8" height="29.2" rx="2" fill="#f6f4f4" stroke="#2b2f33" stroke-width="1.2"/>
<path d="M943.4 391.8 V388.3 Q943.4 386.3 945.4 386.3 H971.2 Q973.2 386.3 973.2 388.3 V391.8 Z" fill="#b27391" stroke="#2b2f33" stroke-width="1.2"/>
<path d="M945.8 389 H947 M948.4 389 H949.6 M951 389 H952.2" stroke="#3a2230" stroke-width="0.9"/>
<rect x="947.6" y="397.8" width="17" height="4.2" fill="#cdd0d4"/>
<path d="M947.6 408.4 L954.2 400.8 L957.6 404.6 L959.4 402.8 L963.2 405.8 L964.6 410.5 H947.6 Z" fill="#7d7cb8" stroke="#2b2f33" stroke-width="0.9" stroke-linejoin="round"/>
<path d="M962.2 410.2 Q963.4 403.4 967.6 398.6 L969.4 397.2 L969 400.6 Q966 404.6 964.8 410.2 Z" fill="#d8779c" stroke="#5a2a40" stroke-width="0.7" stroke-linejoin="round"/>
<path d="M959.6 395.6 L962.2 397.4 L959.6 398 Z M958.4 398.6 H964.8" fill="#d8779c" stroke="#d8779c" stroke-width="0.8"/>
<path d="M947.4 397.8 V410.5 H965" fill="none" stroke="#2b2f33" stroke-width="1"/></svg>
</body></html>
